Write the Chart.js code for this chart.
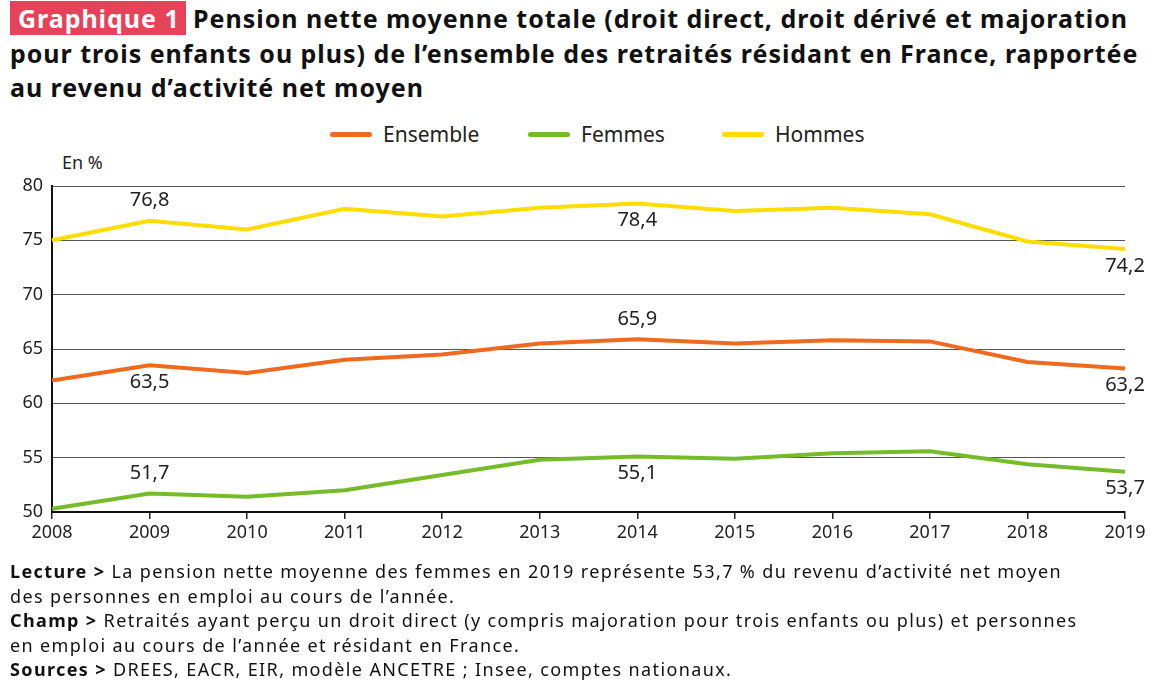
<!DOCTYPE html>
<html lang="fr">
<head>
<meta charset="utf-8">
<script src="https://cdn.jsdelivr.net/npm/chart.js@4.4.0/dist/chart.umd.min.js"></script>
<style>
  body { margin: 0; background: #fff; font-family: "Noto Sans", sans-serif; color: #111; }
  #page { position: relative; width: 1166px; height: 700px; overflow: hidden; }
  #title { position: absolute; left: 10px; top: 1px; font-weight: bold; font-size: 25px; line-height: 34.5px; color: #111; white-space: nowrap; }
  .badge { background: #E8415A; color: #fff; padding: 0 6px 0 8px; }
  #legend { position: absolute; top: 120px; left: 0; width: 1166px; font-size: 21px; color: #222; }
  .item { position: absolute; top: 0; white-space: nowrap; }
  .swatch { display: inline-block; width: 42px; height: 5px; border-radius: 3px; vertical-align: middle; margin-right: 11px; position: relative; top: -2px; }
  #unit { position: absolute; left: 62px; top: 150px; font-size: 18px; color: #222; }
  #wrap { position: absolute; left: 0; top: 140px; width: 1166px; height: 420px; }
  #notes { position: absolute; left: 10px; top: 559px; font-size: 18px; line-height: 24.5px; color: #111; white-space: nowrap; }
  #notes b { font-weight: bold; }
  .line { display: block; }
</style>
</head>
<body>
<div id="page">
  <div id="title"><span class="line" id="t1"><span class="badge">Graphique 1</span> Pension nette moyenne totale (droit direct, droit dérivé et majoration</span><span class="line">pour trois enfants ou plus) de l’ensemble des retraités résidant en France, rapportée</span><span class="line">au revenu d’activité net moyen</span></div>
  <div id="legend"></div>
  <div id="unit">En %</div>
  <div id="wrap"><canvas id="pensionChart"></canvas></div>
  <div id="notes"><span class="line" id="n1"><b>Lecture &gt;</b> La pension nette moyenne des femmes en 2019 représente 53,7 % du revenu d’activité net moyen</span><span class="line">des personnes en emploi au cours de l’année.</span><span class="line"><b>Champ &gt;</b> Retraités ayant perçu un droit direct (y compris majoration pour trois enfants ou plus) et personnes</span><span class="line">en emploi au cours de l’année et résidant en France.</span><span class="line"><b>Sources &gt;</b> DREES, EACR, EIR, modèle ANCETRE ; Insee, comptes nationaux.</span></div>
</div>
<script>
const years = ['2008', '2009', '2010', '2011', '2012', '2013', '2014', '2015', '2016', '2017', '2018', '2019'];
const ensemble = [62.1, 63.5, 62.8, 64.0, 64.5, 65.5, 65.9, 65.5, 65.8, 65.7, 63.8, 63.2];
const femmes = [50.3, 51.7, 51.4, 52.0, 53.4, 54.8, 55.1, 54.9, 55.4, 55.6, 54.4, 53.7];
const hommes = [75.0, 76.8, 76.0, 77.9, 77.2, 78.0, 78.4, 77.7, 78.0, 77.4, 74.9, 74.2];
const yTicks = [50, 55, 60, 65, 70, 75, 80];

// which points get a value label, and on which side (-1 above, +1 below)
const labelled = {
    Ensemble: { 1: 1, 6: -1, 11: 1 },
    Femmes: { 1: -1, 6: 1, 11: 1 },
    Hommes: { 1: -1, 6: 1, 11: 1 }
};

const series = [
    { label: 'Ensemble', data: ensemble, color: '#EF6A1F', left: 330 },
    { label: 'Femmes', data: femmes, color: '#76BB2A', left: 528 },
    { label: 'Hommes', data: hommes, color: '#FFDD00', left: 722 }
];

const FONT = '"Noto Sans", sans-serif';

// HTML legend
const legend = document.getElementById('legend');
series.forEach(s => {
    const item = document.createElement('div');
    item.className = 'item';
    item.style.left = s.left + 'px';
    item.innerHTML = `<span class="swatch" style="background:${s.color}"></span>${s.label}`;
    legend.appendChild(item);
});

// widen a text block so that its first line reaches the reference width
function fitWidth(block, firstLine, target) {
    firstLine.style.display = 'inline';
    const w = firstLine.getBoundingClientRect().width;
    firstLine.style.display = '';
    const chars = firstLine.textContent.length;
    block.style.letterSpacing = ((target - w) / chars) + 'px';
}
fitWidth(document.getElementById('title'), document.getElementById('t1'), 1118);
fitWidth(document.getElementById('notes'), document.getElementById('n1'), 1052);

const fmt = v => v.toFixed(1).replace('.', ',');

const valueLabels = {
    id: 'valueLabels',
    afterDatasetsDraw(chart) {
        const ctx = chart.ctx;
        ctx.save();
        ctx.font = '20px ' + FONT;
        ctx.fillStyle = '#222';
        ctx.textAlign = 'center';
        ctx.textBaseline = 'middle';
        chart.data.datasets.forEach((ds, di) => {
            const meta = chart.getDatasetMeta(di);
            const marks = labelled[ds.label] || {};
            Object.keys(marks).forEach(i => {
                const pt = meta.data[i];
                const dy = marks[i] < 0 ? -20 : 17;
                ctx.fillText(fmt(ds.data[i]), pt.x, pt.y + dy);
            });
        });
        ctx.restore();
    }
};

const ctx = document.getElementById('pensionChart').getContext('2d');
new Chart(ctx, {
    type: 'line',
    data: {
        labels: years,
        datasets: series.map(s => ({
            label: s.label,
            data: s.data,
            borderColor: s.color,
            backgroundColor: s.color,
            borderWidth: 4,
            pointRadius: 0,
            tension: 0
        }))
    },
    options: {
        responsive: true,
        maintainAspectRatio: false,
        animation: false,
        layout: { padding: { top: 46, right: 41, left: 0, bottom: 0 } },
        plugins: {
            legend: { display: false },
            tooltip: { enabled: false }
        },
        scales: {
            x: {
                offset: false,
                afterFit: axis => { axis.height = 48; },
                grid: { drawOnChartArea: false, drawTicks: true, tickLength: 7, color: '#222', lineWidth: 1.5 },
                border: { color: '#111', width: 2 },
                ticks: { color: '#222', font: { size: 18, family: FONT }, padding: 3, maxRotation: 0 }
            },
            y: {
                min: 50,
                max: 80,
                afterFit: axis => { axis.width = 52; },
                afterBuildTicks: axis => { axis.ticks = yTicks.map(v => ({ value: v })); },
                grid: { color: '#555', lineWidth: 1, drawTicks: false },
                border: { color: '#111', width: 2 },
                ticks: { color: '#222', font: { size: 18, family: FONT }, padding: 9 }
            }
        }
    },
    plugins: [valueLabels]
});
</script>
</body>
</html>
